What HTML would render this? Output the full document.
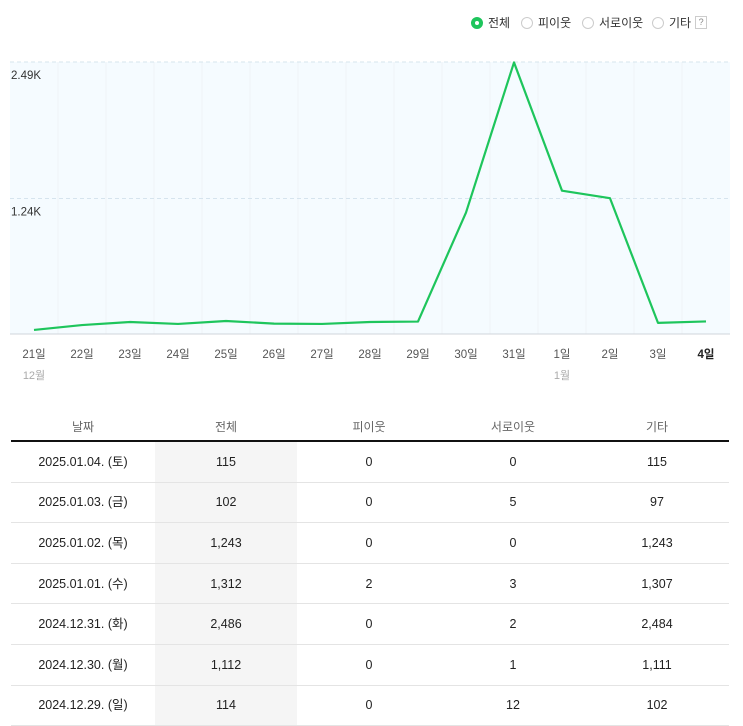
<!DOCTYPE html>
<html><head><meta charset="utf-8"><style>
body{margin:0;width:743px;height:726px;background:#fff;font-family:"Liberation Sans","Noto Sans CJK KR",sans-serif;overflow:hidden;position:relative}
.leg{position:absolute;top:14px;font-size:12px;color:#333;display:flex;align-items:center}
.rad{width:12px;height:12px;border:1px solid #ccc;border-radius:50%;box-sizing:border-box;margin-right:5px;background:#fff}
.rad.on{border:4px solid #1ec55c;background:#fff}
table{position:absolute;left:11px;top:412px;width:718px;border-collapse:collapse;table-layout:fixed;font-size:12.5px;color:#222}
th{font-weight:normal;color:#666;height:28px;padding:0;border-bottom:2px solid #111;font-size:12px}
td{height:39.6px;padding:0;text-align:center;vertical-align:middle;border-bottom:1px solid #e4e4e4;line-height:14px}
td.g{background:#f5f5f5}
</style></head><body>
<div class="leg" style="left:471px"><span class="rad on"></span>전체</div>
<div class="leg" style="left:521px"><span class="rad"></span>피이웃</div>
<div class="leg" style="left:582px"><span class="rad"></span>서로이웃</div>
<div class="leg" style="left:652px"><span class="rad"></span>기타 <span style="display:inline-block;border:1px solid #ccc;font-size:9px;width:10px;height:11px;line-height:11px;text-align:center;margin-left:4px;color:#888">?</span></div>
<svg id="chart" width="743" height="400" style="position:absolute;left:0;top:0"></svg>
<table>
<colgroup><col style="width:144px"><col style="width:142px"><col style="width:144px"><col style="width:144px"><col style="width:144px"></colgroup>
<tr><th>날짜</th><th>전체</th><th>피이웃</th><th>서로이웃</th><th>기타</th></tr>
<tr><td>2025.01.04. (토)</td><td class="g">115</td><td>0</td><td>0</td><td>115</td></tr>
<tr><td>2025.01.03. (금)</td><td class="g">102</td><td>0</td><td>5</td><td>97</td></tr>
<tr><td>2025.01.02. (목)</td><td class="g">1,243</td><td>0</td><td>0</td><td>1,243</td></tr>
<tr><td>2025.01.01. (수)</td><td class="g">1,312</td><td>2</td><td>3</td><td>1,307</td></tr>
<tr><td>2024.12.31. (화)</td><td class="g">2,486</td><td>0</td><td>2</td><td>2,484</td></tr>
<tr><td>2024.12.30. (월)</td><td class="g">1,112</td><td>0</td><td>1</td><td>1,111</td></tr>
<tr><td>2024.12.29. (일)</td><td class="g">114</td><td>0</td><td>12</td><td>102</td></tr>
</table>
<script>
const labels=["21일","22일","23일","24일","25일","26일","27일","28일","29일","30일","31일","1일","2일","3일","4일"];
const values=[37,82,110,92,119,95,92,110,114,1112,2486,1312,1243,102,115];
const tickValues=[1240,2490];
const tickLabels=["1.24K","2.49K"];
const ns="http://www.w3.org/2000/svg",svg=document.getElementById('chart');
const L=10,R=730,T=62,B=334,maxV=2490,step=(R-L)/labels.length;
const x=i=>L+step*(i+0.5), y=v=>B-(v/maxV)*(B-T);
function mk(t,a){const e=document.createElementNS(ns,t);for(const k in a)e.setAttribute(k,a[k]);svg.appendChild(e);return e;}
let bg=mk('rect',{x:L,y:T,width:R-L,height:B-T,fill:'#f5fbff'});


for(let i=1;i<labels.length;i++){let g=mk('line',{x1:L+step*i,x2:L+step*i,y1:T,y2:B,stroke:'#eef3f7'});

}
tickValues.forEach((v,i)=>{let g=mk('line',{x1:L,x2:R,y1:y(v),y2:y(v),stroke:'#d6e4ee','stroke-dasharray':'4,3'});


let t=mk('text',{x:L+1,y:y(v)+17,'font-size':'11.5',fill:'#333'});t.textContent=tickLabels[i];

});
let ax=mk('line',{x1:L,x2:R,y1:B,y2:B,stroke:'#d0d6db'});


let p=mk('polyline',{points:values.map((v,i)=>x(i)+','+y(v)).join(' '),fill:'none',stroke:'#1ec55c','stroke-width':2.2,'stroke-linejoin':'round'});


labels.forEach((l,i)=>{let t=mk('text',{x:x(i),y:358,'text-anchor':'middle','font-size':'11.5',fill:i==labels.length-1?'#222':'#555','font-weight':i==labels.length-1?'bold':'normal'});t.textContent=l;

});
[[0,'12월'],[11,'1월']].forEach(([i,m])=>{let t=mk('text',{x:x(i),y:379,'text-anchor':'middle','font-size':'11',fill:'#aaa'});t.textContent=m;

});
</script>
</body></html>
